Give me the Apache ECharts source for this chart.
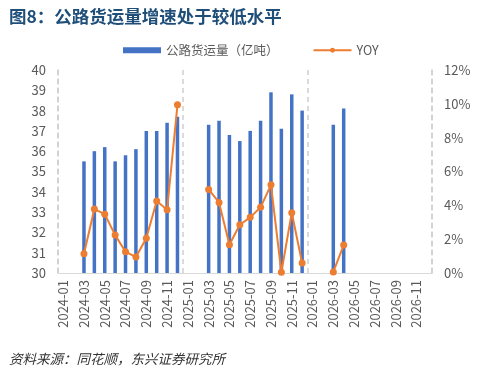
<!DOCTYPE html>
<html>
<head>
<meta charset="utf-8">
<script src="https://cdn.jsdelivr.net/npm/echarts@6/dist/echarts.min.js"></script>
<style>
  html, body { margin: 0; padding: 0; background: #fff; }
  #chart { width: 480px; height: 368px; }
</style>
</head>
<body>
<div id="chart"></div>
<script>
  // 月份（2024-01 ~ 2026-12）
  const months = [
    '2024-01', '2024-02', '2024-03', '2024-04', '2024-05', '2024-06',
    '2024-07', '2024-08', '2024-09', '2024-10', '2024-11', '2024-12',
    '2025-01', '2025-02', '2025-03', '2025-04', '2025-05', '2025-06',
    '2025-07', '2025-08', '2025-09', '2025-10', '2025-11', '2025-12',
    '2026-01', '2026-02', '2026-03', '2026-04', '2026-05', '2026-06',
    '2026-07', '2026-08', '2026-09', '2026-10', '2026-11', '2026-12'
  ]
  // 公路货运量（亿吨）
  const freight = [
    null, null, 35.5, 36.0, 36.2, 35.5, 35.8, 36.1, 37.0, 37.0, 37.4, 37.7,
    null, null, 37.3, 37.5, 36.8, 36.5, 37.0, 37.5, 38.9, 37.1, 38.8, 38.0,
    null, null, 37.3, 38.1, null, null, null, null, null, null, null, null
  ]
  // YOY（%）
  const yoy = [
    null, null, 1.14, 3.78, 3.48, 2.24, 1.26, 0.94, 2.05, 4.25, 3.74, 9.94,
    null, null, 4.94, 4.17, 1.67, 2.85, 3.29, 3.88, 5.21, 0.04, 3.56, 0.59,
    null, null, 0.06, 1.65, null, null, null, null, null, null, null, null
  ]

  const font = '"Noto Sans CJK SC", "Noto Sans", sans-serif'
  const grayText = '#595959'
  const dashGray = '#cfcfcf'

  const chart = echarts.init(document.getElementById('chart'))

  chart.setOption({
    animation: false,
    textStyle: { fontFamily: font },
    title: [{
      text: '图8：公路货运量增速处于较低水平',
      left: 4,
      top: 3,
      textStyle: { fontSize: 17.5, fontWeight: 'bold', color: '#1F4E79', fontFamily: font }
    }, {
      text: '资料来源：同花顺，东兴证券研究所',
      left: 4,
      top: 347,
      textStyle: { fontSize: 13.5, fontWeight: 'normal', fontStyle: 'italic', color: '#333', fontFamily: font }
    }],
    legend: {
      top: 39,
      left: 118,
      itemGap: 34,
      itemWidth: 38,
      itemHeight: 6,
      textStyle: { fontSize: 12.5, color: grayText, fontFamily: font },
      data: [
        { name: '公路货运量（亿吨）', icon: 'rect' },
        { name: 'YOY' }
      ]
    },
    grid: {
      left: 58,
      right: 48,
      top: 70,
      bottom: 95
    },
    xAxis: {
      type: 'category',
      data: months,
      boundaryGap: true,
      axisLine: { lineStyle: { color: '#d9d9d9', width: 1 } },
      axisTick: {
        interval: 1,
        length: 4,
        lineStyle: { color: '#d9d9d9' }
      },
      axisLabel: {
        interval: 1,
        rotate: 90,
        color: grayText,
        fontSize: 13,
        margin: 7
      },
      splitLine: {
        show: true,
        interval: (i) => i % 12 === 0,
        lineStyle: { color: dashGray, type: [5, 4], width: 1.5 }
      }
    },
    yAxis: [{
      type: 'value',
      min: 30,
      max: 40,
      interval: 1,
      axisLine: { show: true, lineStyle: { color: dashGray, type: [5, 4], width: 1.5 } },
      axisTick: { show: false },
      splitLine: { show: false },
      axisLabel: { color: grayText, fontSize: 13, margin: 12 }
    }, {
      type: 'value',
      min: 0,
      max: 12,
      interval: 2,
      axisLine: { show: true, lineStyle: { color: dashGray, type: [5, 4], width: 1.5 } },
      axisTick: { show: false },
      splitLine: { show: false },
      axisLabel: { color: grayText, fontSize: 13, margin: 12, formatter: '{value}%' }
    }],
    series: [{
      name: '公路货运量（亿吨）',
      type: 'bar',
      barWidth: 3.5,
      itemStyle: { color: '#4472C4' },
      data: freight
    }, {
      name: 'YOY',
      type: 'line',
      yAxisIndex: 1,
      symbol: 'circle',
      symbolSize: 7,
      showAllSymbol: true,
      connectNulls: false,
      lineStyle: { color: '#ED7D31', width: 2 },
      itemStyle: { color: '#ED7D31' },
      data: yoy
    }]
  })
</script>
</body>
</html>
